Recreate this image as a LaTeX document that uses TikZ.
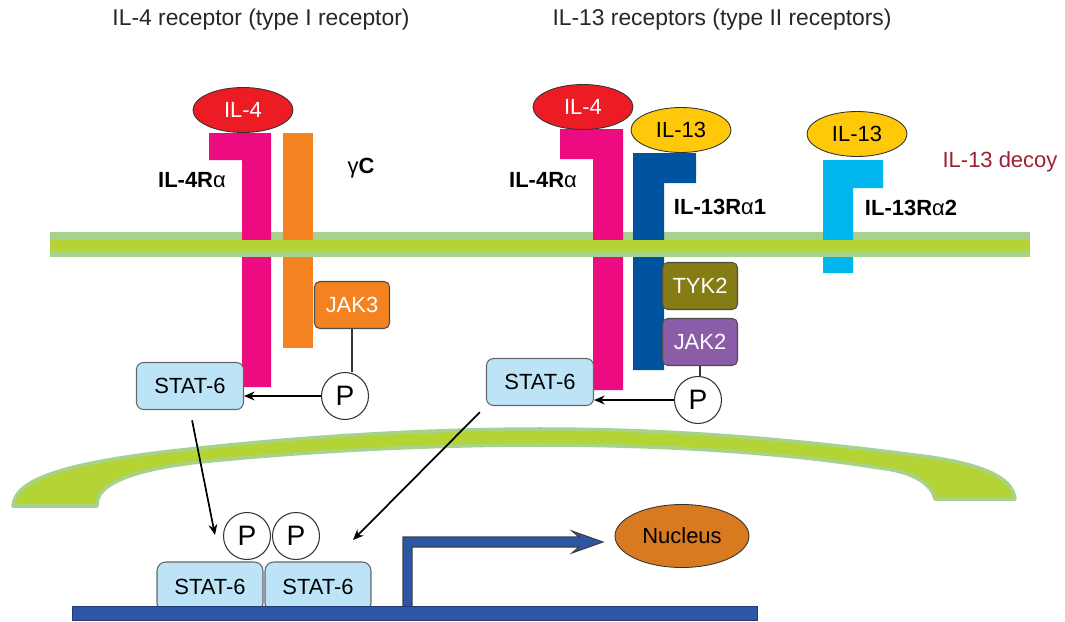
\documentclass[tikz,border=0pt]{standalone}
\usepackage{fontspec}
\setmainfont{Liberation Sans}
\usetikzlibrary{shapes.geometric,arrows.meta,positioning}

\definecolor{il4red}{HTML}{ED1C24}
\definecolor{il13yellow}{HTML}{FFC90A}
\definecolor{chainmagenta}{HTML}{EC0B81}
\definecolor{gammaorange}{HTML}{F58220}
\definecolor{chainblue}{HTML}{00549F}
\definecolor{chaincyan}{HTML}{00B6EE}
\definecolor{tykolive}{HTML}{867C14}
\definecolor{jakpurple}{HTML}{8B5CA7}
\definecolor{statblue}{HTML}{BDE4F6}
\definecolor{memlight}{HTML}{A6D28B}
\definecolor{memgreen}{HTML}{B4D334}
\definecolor{dnablue}{HTML}{2E56A6}
\definecolor{nucorange}{HTML}{D87B20}
\definecolor{decoyred}{HTML}{9E1F33}

\begin{document}
\begin{tikzpicture}[x=0.02cm,y=-0.02cm,>={Stealth[length=6pt,width=5pt]}]
    \tikzstyle{every node}=[font=\fontsize{12.5}{15}\selectfont]
    \tikzstyle{ligand}=[ellipse,draw=black!80,line width=0.5pt,minimum width=2cm,minimum height=0.9cm,inner sep=0pt]
    \tikzstyle{kinase}=[rectangle,rounded corners=3pt,draw=black!70,line width=0.6pt,text=white,minimum width=1.5cm,minimum height=0.94cm,inner sep=0pt]
    \tikzstyle{stat}=[rectangle,rounded corners=4pt,draw=black!60,line width=0.6pt,fill=statblue,minimum width=2.14cm,minimum height=0.94cm,inner sep=0pt,font=\fontsize{12.5}{15}\selectfont]
    \tikzstyle{phospho}=[circle,draw=black!80,line width=0.6pt,fill=white,minimum size=0.94cm,inner sep=0pt,font=\fontsize{16}{18}\selectfont]
    \tikzstyle{chain name}=[font=\bfseries\fontsize{12.5}{15}\selectfont]
    \tikzstyle{heading}=[font=\fontsize{13}{16}\selectfont,text=black!85]
    \tikzstyle{signal}=[->,draw=black,line width=1pt]

    \useasboundingbox (0,0) rectangle (1065,622);

    % Headings
    \node[heading] (head-1) at (261,20) {IL-4 receptor (type I receptor)};
    \node[heading] (head-2) at (722,20) {IL-13 receptors (type II receptors)};

    % Outer leaflet of the membrane goes under the receptor chains
    \fill[memlight] (50,232) rectangle (1030,240);

    % Receptor chains
    \fill[chainmagenta] (209,133) -| (271,387) -| (242,160) -| cycle;
    \fill[gammaorange] (283,133) rectangle (313,348);
    \fill[chainmagenta] (560,129) -| (623,390) -| (593,159) -| cycle;
    \fill[chainblue] (633,153) -| (696,183) -| (664,370) -| cycle;
    \fill[chaincyan] (823,160) -| (883,188) -| (853,273) -| cycle;

    % Core and inner leaflet on top of the chains
    \fill[memgreen] (50,240) rectangle (1030,251);
    \fill[memlight] (50,251) rectangle (1030,257);

    % Cytokines
    \node[ligand,fill=il4red,text=white] (L-1) at (243,110) {IL-4};
    \node[ligand,fill=il4red,text=white] (L-2) at (583,107) {IL-4};
    \node[ligand,fill=il13yellow] (L-3) at (681,130) {IL-13};
    \node[ligand,fill=il13yellow] (L-4) at (857,134) {IL-13};

    % Chain names
    \node[chain name] (n-4ra) at (192,180) {IL-4R{\mdseries α}};
    \node[chain name] (n-gc) at (361,168) {{\mdseries γ}C};
    \node[chain name] (n-4rb) at (543,180) {IL-4R{\mdseries α}};
    \node[chain name] (n-13r1) at (720,207) {IL-13R{\mdseries α}1};
    \node[chain name] (n-13r2) at (911,208) {IL-13R{\mdseries α}2};
    \node[text=decoyred] (decoy) at (1000,162) {IL-13 decoy};

    % Kinases
    \node[kinase,fill=gammaorange] (J-1) at (352,305) {JAK3};
    \node[kinase,fill=tykolive] (T-1) at (700,286) {TYK2};
    \node[kinase,fill=jakpurple] (J-2) at (700,342) {JAK2};

    % STAT-6 and phosphates
    \node[stat] (S-1) at (190,386) {STAT-6};
    \node[stat] (S-2) at (540,382) {STAT-6};
    \node[phospho] (P-1) at (345,396) {P};
    \node[phospho] (P-2) at (698,400) {P};

    \draw[black!80,line width=0.7pt] (J-1.south) -- (J-1.south |- P-1.north);
    \draw[black!80,line width=0.7pt] (J-2.south) -- (J-2.south |- P-2.north);
    \draw[signal] (P-1.west) -- (P-1.west -| S-1.east);
    \draw[signal] (P-2.west) -- (P-2.west -| S-2.east);

    % Nuclear envelope
    \filldraw[fill=memgreen,draw=memlight,line width=2pt,line join=round]
        (13,506) .. controls (15,480) and (60,462) .. (200,448)
        .. controls (330,434) and (450,429) .. (540,429)
        .. controls (680,429) and (800,440) .. (930,457)
        .. controls (990,466) and (1013,480) .. (1015,499)
        -- (935,499) .. controls (932,485) and (915,472) .. (880,468)
        .. controls (780,452) and (660,445) .. (540,445)
        .. controls (420,445) and (300,452) .. (200,462)
        .. controls (130,470) and (95,485) .. (97,506) -- cycle;

    % Phosphorylated STAT-6 dimer on the DNA
    \foreach \name / \x in {1/210,2/318}
        \node[stat,rounded corners=5pt,minimum width=2.12cm,minimum height=1cm] (D-\name) at (\x,587) {STAT-6};
    \foreach \name / \x in {1/247,2/296}
        \node[phospho] (DP-\name) at (\x,536) {P};

    \coordinate (in-1) at (215,535);
    \coordinate (in-2) at (353,540);
    \draw[signal,shorten <=6pt] (S-1.south) -- (in-1);
    \draw[signal,shorten <=5pt] (S-2.south west) -- (in-2);

    % Transcription start arrow
    \filldraw[fill=dnablue,draw=black!75,line width=0.6pt,line join=miter]
        (403,608) -- (403,537) -- (579,537) -- (572,531) -- (603,542)
        -- (572,553) -- (579,547) -- (412,547) -- (412,608) -- cycle;

    % DNA
    \filldraw[fill=dnablue,draw=dnablue!70!black,line width=0.4pt] (72,606) rectangle (757,620);

    \node[ellipse,draw=black!80,line width=0.5pt,fill=nucorange,minimum width=2.68cm,minimum height=1.26cm,inner sep=0pt] (nuc) at (682,536) {Nucleus};
\end{tikzpicture}
\end{document}
